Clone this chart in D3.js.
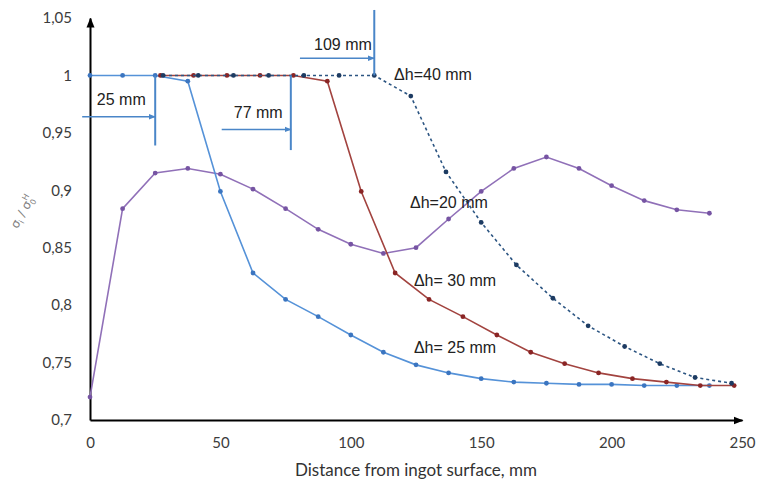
<!DOCTYPE html>
<html>
<head>
<meta charset="utf-8">
<script src="https://cdn.jsdelivr.net/npm/d3@7"></script>
<style>
  body { margin: 0; background: #fff; }
  svg { display: block; }
</style>
</head>
<body>
<div id="views"></div>
<script>
// Δh = 25 mm (blue)
var dist25 = [0, 12.5, 25, 37.5, 50, 62.5, 75, 87.5, 100, 112.5, 125, 137.5, 150, 162.5, 175, 187.5, 200, 212.5, 225, 237.5];
var ratio25 = [1, 1, 1, 0.995, 0.899, 0.828, 0.805, 0.790, 0.774, 0.759, 0.748, 0.741, 0.736, 0.733, 0.732, 0.731, 0.731, 0.730, 0.730, 0.730];

// Δh = 30 mm (red)
var dist30 = [27, 39.7, 52.5, 65.2, 78, 91, 104, 117, 130, 143, 156, 169, 182, 195, 208, 221, 234, 247];
var ratio30 = [1, 1, 1, 1, 1, 0.995, 0.899, 0.828, 0.805, 0.790, 0.774, 0.759, 0.749, 0.741, 0.736, 0.733, 0.730, 0.730];

// Δh = 40 mm (navy, dotted)
var dist40 = [28, 41.5, 55, 68.5, 82, 95.5, 109, 123, 136.5, 150, 163.5, 177.5, 191, 205, 218.5, 232, 246];
var ratio40 = [1, 1, 1, 1, 1, 1, 1, 0.982, 0.916, 0.872, 0.835, 0.806, 0.782, 0.764, 0.749, 0.737, 0.732];

// Δh = 20 mm (purple)
var dist20 = [0, 12.5, 25, 37.5, 50, 62.5, 75, 87.5, 100, 112.5, 125, 137.5, 150, 162.5, 175, 187.5, 200, 212.5, 225, 237.5];
var ratio20 = [0.720, 0.884, 0.915, 0.919, 0.914, 0.901, 0.884, 0.866, 0.853, 0.845, 0.850, 0.875, 0.899, 0.919, 0.929, 0.919, 0.904, 0.891, 0.883, 0.880];

var xTicks = [0, 50, 100, 150, 200, 250];
var xTickLabels = ["0", "50", "100", "150", "200", "250"];
var yTicks = [0.7, 0.75, 0.8, 0.85, 0.9, 0.95, 1, 1.05];
var yTickLabels = ["0,7", "0,75", "0,8", "0,85", "0,9", "0,95", "1", "1,05"];

// depth marks: where each curve leaves 1
var markDepths = [25, 77, 109];
var markLabels = ["25 mm", "77 mm", "109 mm"];

var seriesLabels = ["Δh=40 mm", "Δh=20 mm", "Δh= 30 mm", "Δh= 25 mm"];

var w = 757, h = 484;
var margin = {left: 90, right: 15, top: 18, bottom: 64};

var svg = d3.select("#views").append("svg")
    .attr("width", w)
    .attr("height", h);

var xScale = d3.scaleLinear().domain([0, 250]).range([margin.left, w - margin.right]);
var yScale = d3.scaleLinear().domain([0.7, 1.05]).range([h - margin.bottom, margin.top]);

var defs = svg.append("defs");
function addArrow(id, color, size) {
    defs.append("marker")
        .attr("id", id)
        .attr("viewBox", "0 0 10 10")
        .attr("refX", 9).attr("refY", 5)
        .attr("markerWidth", size).attr("markerHeight", size)
        .attr("markerUnits", "userSpaceOnUse")
        .attr("orient", "auto")
      .append("path")
        .attr("d", "M0,1L10,5L0,9Z")
        .attr("fill", color);
}
addArrow("axisArrow", "#000", 10);
addArrow("markArrow", "#4a86c8", 7);

var series = [
    {x: dist20, y: ratio20, line: "#9070b8", dot: "#7654a3", dash: null},
    {x: dist25, y: ratio25, line: "#5592d8", dot: "#3b75c0", dash: null},
    {x: dist30, y: ratio30, line: "#a2433f", dot: "#8a2525", dash: null},
    {x: dist40, y: ratio40, line: "#2c5582", dot: "#1d3b62", dash: "3,3"}
];

// axes
var xAxis = d3.axisBottom(xScale)
    .tickValues(xTicks)
    .tickFormat(function(d, i) { return xTickLabels[i]; })
    .tickSize(0).tickPadding(17);
var yAxis = d3.axisLeft(yScale)
    .tickValues(yTicks)
    .tickFormat(function(d, i) { return yTickLabels[i]; })
    .tickSize(0).tickPadding(18);

var gx = svg.append("g").attr("transform", "translate(0," + yScale(0.7) + ")").call(xAxis);
var gy = svg.append("g").attr("transform", "translate(" + xScale(0) + ",0)").call(yAxis);

[gx, gy].forEach(function(g) {
    g.select(".domain")
        .attr("stroke", "#000")
        .attr("stroke-width", 2)
        .attr("marker-end", "url(#axisArrow)");
    g.selectAll("text")
        .attr("font-family", "Lato, 'Open Sans', sans-serif")
        .attr("font-size", 15)
        .attr("fill", "#3c3c3c");
});

svg.append("text")
    .attr("x", 416)
    .attr("y", 476)
    .attr("text-anchor", "middle")
    .attr("font-family", "Lato, 'Open Sans', sans-serif")
    .attr("font-size", 17)
    .attr("fill", "#333")
    .text("Distance from ingot surface, mm");

var yLab = svg.append("text")
    .attr("transform", "translate(26,214) rotate(-60)")
    .attr("text-anchor", "middle")
    .attr("font-family", "'DejaVu Sans', sans-serif")
    .attr("font-size", 12)
    .attr("fill", "#808080");
yLab.append("tspan").text("σ");
yLab.append("tspan").attr("font-size", 8).attr("dy", 3).text("i");
yLab.append("tspan").attr("dy", -3).text(" / σ");
yLab.append("tspan").attr("font-size", 8).attr("dy", 3).text("0");
yLab.append("tspan").attr("font-size", 8).attr("dx", -5).attr("dy", -9).text("H");

// curves
var line = d3.line()
    .x(function(d) { return xScale(d[0]); })
    .y(function(d) { return yScale(d[1]); });

series.forEach(function(s) {
    var pts = d3.zip(s.x, s.y);
    svg.append("path")
        .datum(pts)
        .attr("fill", "none")
        .attr("stroke", s.line)
        .attr("stroke-width", 1.6)
        .attr("stroke-dasharray", s.dash)
        .attr("d", line);
    svg.append("g").selectAll("circle")
        .data(pts)
        .enter().append("circle")
            .attr("cx", function(d) { return xScale(d[0]); })
            .attr("cy", function(d) { return yScale(d[1]); })
            .attr("r", 2.4)
            .attr("fill", s.dot);
});

// depth markers (vertical line + arrow + label)
var markSpecs = [
    {y0: 1, y1: 0.939, arrowY: 0.964, arrowFrom: -3, textX: 12, textY: 0.974},
    {y0: 1, y1: 0.935, arrowY: 0.953, arrowFrom: 50.5, textX: 64.5, textY: 0.963},
    {y0: 1.057, y1: 1, arrowY: 1.015, arrowFrom: 80.5, textX: 97, textY: 1.022}
];

markDepths.forEach(function(d, i) {
    var m = markSpecs[i];
    svg.append("line")
        .attr("x1", xScale(d)).attr("x2", xScale(d))
        .attr("y1", yScale(m.y0)).attr("y2", yScale(m.y1))
        .attr("stroke", "#4a86c8").attr("stroke-width", 2);
    svg.append("line")
        .attr("x1", xScale(m.arrowFrom)).attr("x2", xScale(d))
        .attr("y1", yScale(m.arrowY)).attr("y2", yScale(m.arrowY))
        .attr("stroke", "#4a86c8").attr("stroke-width", 1.5)
        .attr("marker-end", "url(#markArrow)");
    svg.append("text")
        .attr("x", xScale(m.textX))
        .attr("y", yScale(m.textY))
        .attr("text-anchor", "middle")
        .attr("font-family", "'Liberation Sans', Arial, sans-serif")
        .attr("font-size", 16)
        .attr("fill", "#222")
        .text(markLabels[i]);
});

// series labels
var labelPos = [[116.6, 0.996], [122.7, 0.885], [124.2, 0.817], [124.2, 0.758]];
seriesLabels.forEach(function(t, i) {
    svg.append("text")
        .attr("x", xScale(labelPos[i][0]))
        .attr("y", yScale(labelPos[i][1]))
        .attr("font-family", "'Liberation Sans', Arial, sans-serif")
        .attr("font-size", 16)
        .attr("fill", "#222")
        .text(t);
});
</script>
</body>
</html>
